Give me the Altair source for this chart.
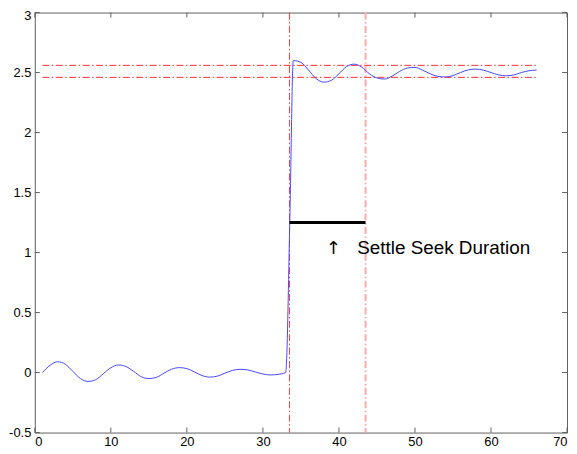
import altair as alt
import pandas as pd

# ---- data ----
sig_x = [1, 2, 3, 4, 5, 6, 7, 8, 9, 10, 11, 12, 13, 14, 15, 16, 17, 18, 19, 20,
         21, 22, 23, 24, 25, 26, 27, 28, 29, 30, 31, 32, 33, 33.1, 33.55, 34,
         35, 36, 37, 38, 39, 40, 41, 42, 43, 44, 45, 46, 47, 48, 49, 50,
         51, 52, 53, 54, 55, 56, 57, 58, 59, 60, 61, 62, 63, 64, 65, 66]
sig_y = [0.0, 0.06, 0.09, 0.07, 0.01, -0.05, -0.074, -0.06, -0.01, 0.04, 0.063, 0.05,
         0.01, -0.035, -0.05, -0.04, -0.005, 0.028, 0.041, 0.033, 0.005, -0.025,
         -0.038, -0.03, -0.005, 0.018, 0.027, 0.022, 0.005, -0.012, -0.02, -0.015,
         0.0, 0.08, 1.3, 2.6,
         2.585, 2.52, 2.45, 2.42, 2.435, 2.49, 2.55, 2.57, 2.545, 2.49, 2.455, 2.446,
         2.47, 2.51, 2.538, 2.543, 2.52, 2.49, 2.468, 2.463, 2.475, 2.50, 2.522,
         2.529, 2.52, 2.50, 2.48, 2.473, 2.48, 2.50, 2.515, 2.521]

band_levels = [2.46, 2.56]
band_start = [1, 1]
band_end = [66, 66]

vline_x = [33.5, 43.5]
seg_start = [33.5]
seg_end = [43.5]
seg_level = [1.25]

arrow_x = [39.3]
arrow_y = [0.99]
label_x = [42.4]
label_y = [0.99]
label_text = ["Settle Seek Duration"]

x_ticks = [0, 10, 20, 30, 40, 50, 60, 70]
y_ticks = [-0.5, 0, 0.5, 1, 1.5, 2, 2.5, 3]

W, H = 536, 423
FONT = "Liberation Sans"
AX = "#606060"

xs = alt.Scale(domain=[0, 70], nice=False)
ys = alt.Scale(domain=[-0.5, 3], nice=False)

x_axis = alt.Axis(values=x_ticks, ticks=False, domain=False, grid=False,
                  labelFont=FONT, labelFontSize=13, labelColor="#000",
                  labelPadding=3, title=None, labelExpr="'' + datum.value")
y_axis = alt.Axis(values=y_ticks, ticks=False, domain=False, grid=False,
                  labelFont=FONT, labelFontSize=13, labelColor="#000",
                  labelPadding=4, title=None, labelExpr="'' + datum.value",
                  labelOffset={"condition": {"test": "datum.value === 3", "value": 3},
                               "value": 0})


def X(f):
    return alt.X(f, scale=xs, axis=x_axis)


def Y(f):
    return alt.Y(f, scale=ys, axis=y_axis)


sig = pd.DataFrame({"x": sig_x, "y": sig_y})
bands = pd.DataFrame({"y": band_levels, "x1": band_start, "x2": band_end})
vl1 = pd.DataFrame({"x": vline_x[:1]})
vl2 = pd.DataFrame({"x": vline_x[1:]})
seg = pd.DataFrame({"x1": seg_start, "x2": seg_end, "y": seg_level})
arrow = pd.DataFrame({"x": arrow_x, "y": arrow_y, "t": ["↑"]})
lab = pd.DataFrame({"x": label_x, "y": label_y, "t": label_text})
xt = pd.DataFrame({"t": x_ticks})
yt = pd.DataFrame({"t": y_ticks})

DASH = [7, 2.5, 1.5, 2.5]

band_layer = alt.Chart(bands).mark_rule(color="#ff3030", strokeWidth=1,
                                        strokeDash=DASH).encode(
    x=X("x1:Q"), x2="x2:Q", y=Y("y:Q"))

v1 = alt.Chart(vl1).mark_rule(color="#e84848", strokeWidth=1,
                              strokeDash=DASH).encode(x=X("x:Q"))
v2 = alt.Chart(vl2).mark_rule(color="#ffaaaa", strokeWidth=2,
                              strokeDash=DASH).encode(x=X("x:Q"))

line = alt.Chart(sig).mark_line(color="#4848ff", strokeWidth=1,
                                interpolate="monotone").encode(
    x=X("x:Q"), y=Y("y:Q"))

seg_layer = alt.Chart(seg).mark_rule(color="#000", strokeWidth=3).encode(
    x=X("x1:Q"), x2="x2:Q", y=Y("y:Q"))

arrow_layer = alt.Chart(arrow).mark_text(font="DejaVu Sans", fontSize=18,
                                         baseline="alphabetic", align="center",
                                         color="#000").encode(
    x=X("x:Q"), y=Y("y:Q"), text="t:N")
lab_layer = alt.Chart(lab).mark_text(font=FONT, fontSize=19, baseline="alphabetic",
                                     align="left", color="#000").encode(
    x=X("x:Q"), y=Y("y:Q"), text="t:N")

tb = alt.Chart(xt).mark_rule(color=AX, strokeWidth=1).encode(
    x=X("t:Q"), y=alt.value(H), y2=alt.value(H - 5))
tt = alt.Chart(xt).mark_rule(color=AX, strokeWidth=1).encode(
    x=X("t:Q"), y=alt.value(0), y2=alt.value(5))
tl = alt.Chart(yt).mark_rule(color=AX, strokeWidth=1).encode(
    y=Y("t:Q"), x=alt.value(0), x2=alt.value(5))
tr = alt.Chart(yt).mark_rule(color=AX, strokeWidth=1).encode(
    y=Y("t:Q"), x=alt.value(W), x2=alt.value(W - 5))

chart = alt.layer(
    band_layer, v1, v2, line, seg_layer, arrow_layer, lab_layer, tb, tt, tl, tr
).properties(
    width=W, height=H,
    autosize=alt.AutoSizeParams(type="none"),
    padding={"left": 27, "top": 3, "right": 2, "bottom": 18},
    background="white",
).configure_view(stroke=AX, strokeWidth=1)

chart.save("out.html", embed_options={"renderer": "svg", "actions": False})
